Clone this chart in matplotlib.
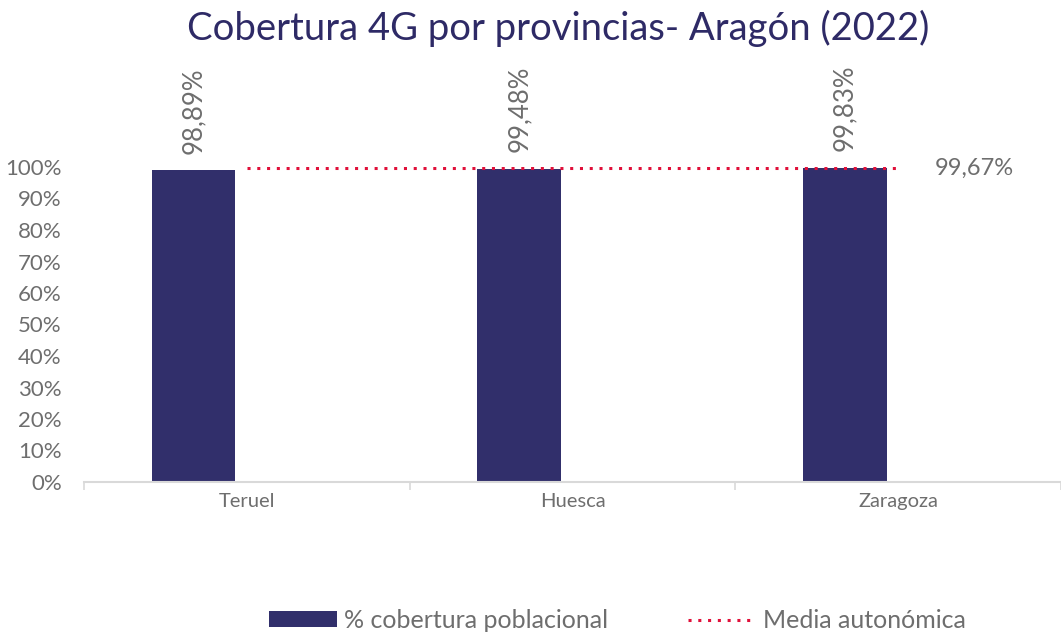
import matplotlib.pyplot as plt
import numpy as np
from matplotlib.ticker import FixedLocator, NullFormatter

provincias = ['Teruel', 'Huesca', 'Zaragoza']
cobertura = [98.89, 99.48, 99.83]
media = 99.67
yticks = list(range(0, 101, 10))

navy = '#312F6B'
red = '#E0103A'
gray = '#6E6E6E'

plt.rcParams['font.family'] = ['Lato', 'DejaVu Sans']

fig = plt.figure(figsize=(10.61, 6.35), dpi=100)
ax = fig.add_axes([84 / 1061, 1 - 482 / 635, 977 / 1061, 315 / 635])

x = np.arange(len(provincias))
offset = -0.164
bars = ax.bar(x + offset, cobertura, width=0.257, color=navy, label='% cobertura poblacional', zorder=2)

for xi, v in zip(x, cobertura):
    ax.annotate(f'{v:.2f}%'.replace('.', ','), (xi + offset, v), xytext=(0, 12),
                textcoords='offset points', rotation=90, ha='center', va='bottom',
                fontsize=18.5, color=gray, annotation_clip=False)

line, = ax.plot(x, [media] * len(x), color=red, linestyle=(0, (1, 2.2)), linewidth=2.2,
                label='Media autonómica', zorder=3)
ax.annotate(f'{media:.2f}%'.replace('.', ','), (x[-1], media), xytext=(26, 0),
            textcoords='offset points', ha='left', va='center', fontsize=17, color=gray)

ax.set_xlim(-0.5, 2.5)
ax.set_ylim(0, 100)
ax.set_yticks(yticks)
ax.set_yticklabels([f'{t}%' for t in yticks], fontsize=16, color=gray)
ax.tick_params(axis='y', length=0, pad=16)

ax.set_xticks(x)
ax.set_xticklabels(provincias, fontsize=14.5, color=gray)
ax.tick_params(axis='x', which='major', length=0, pad=8)
ax.xaxis.set_minor_locator(FixedLocator([-0.5, 0.5, 1.5, 2.5]))
ax.xaxis.set_minor_formatter(NullFormatter())
ax.tick_params(axis='x', which='minor', length=6, color='#D9D9D9', width=1.2)

for s in ['top', 'right', 'left']:
    ax.spines[s].set_visible(False)
ax.spines['bottom'].set_color('#D9D9D9')
ax.spines['bottom'].set_linewidth(1.5)

fig.suptitle('Cobertura 4G por provincias- Aragón (2022)', x=0.526, y=0.985, fontsize=27.5, color='#2E2A66')

fig.legend(handles=[bars, line], loc='center', bbox_to_anchor=(0.582, 0.023), ncol=2, frameon=False,
           fontsize=18, labelcolor=gray, handlelength=2.7, handleheight=0.6,
           columnspacing=3.2, handletextpad=0.3)

fig.savefig('out.png', dpi=100)
